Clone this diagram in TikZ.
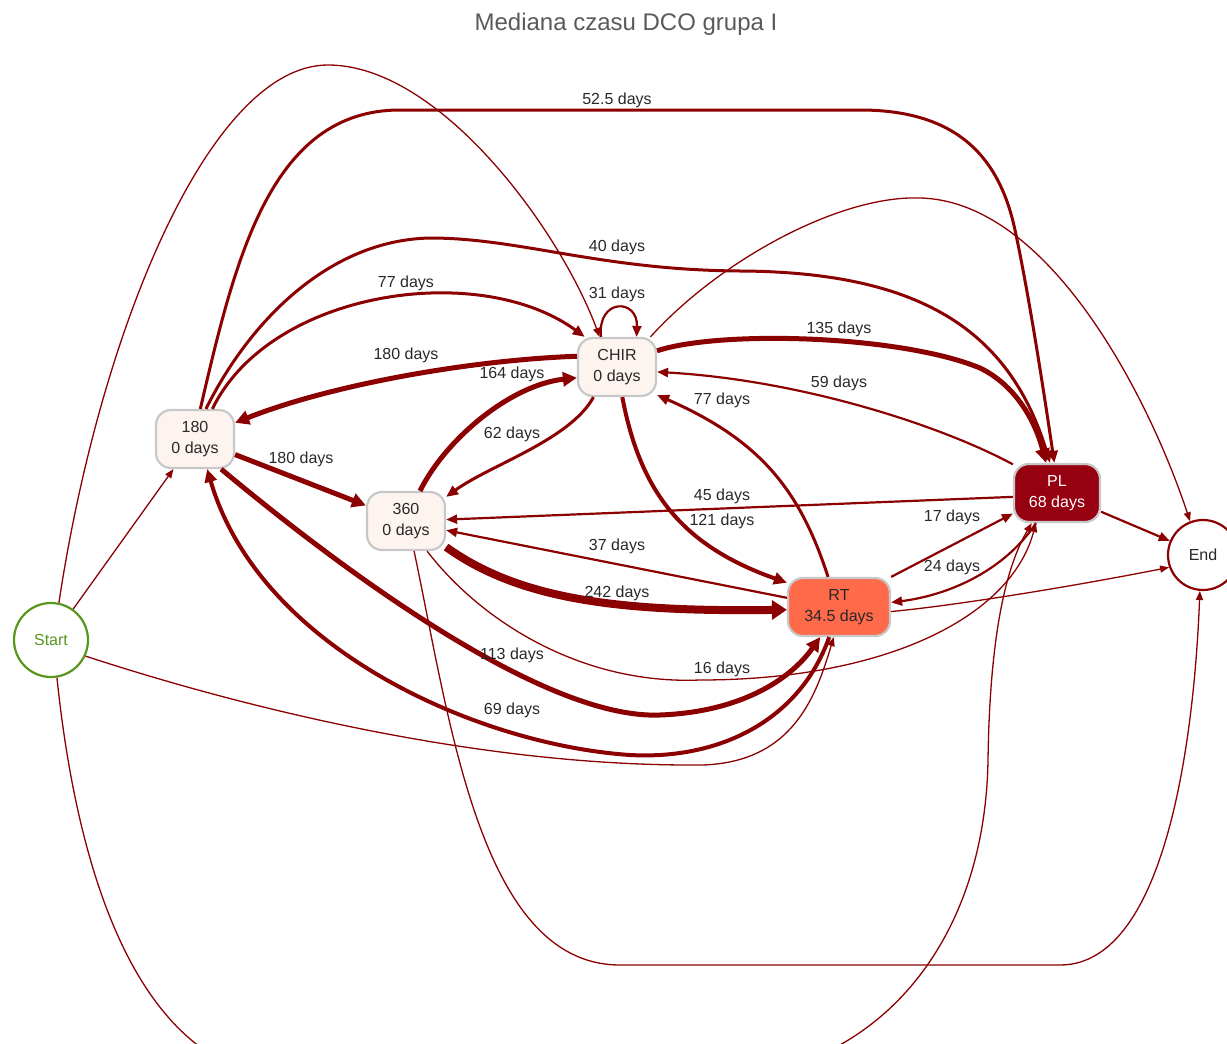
\documentclass[tikz,border=0pt]{standalone}
\usepackage{fontspec}
\setmainfont{Liberation Sans}
\usetikzlibrary{arrows.meta}
\definecolor{edgered}{RGB}{139,0,0}
\definecolor{startgreen}{RGB}{88,150,30}
\definecolor{boxfill}{RGB}{253,244,240}
\definecolor{boxline}{RGB}{200,200,200}
\definecolor{rtfill}{RGB}{255,106,74}
\definecolor{plfill}{RGB}{150,0,16}
\definecolor{txt}{RGB}{40,40,40}
\definecolor{titlegray}{RGB}{90,90,90}

\begin{document}
\begin{tikzpicture}[x=1pt, y=-1pt,
    every node/.style={font=\fontsize{16}{21}\selectfont, text=txt},
    phase/.style={draw=boxline, line width=2.2pt, fill=boxfill, rounded corners=15pt,
      minimum width=78pt, minimum height=58pt, align=center, inner sep=0pt},
    endpt/.style={circle, line width=2.2pt, fill=white, minimum size=74pt, inner sep=0pt},
    lbl/.style={inner sep=1pt},
    w1/.style={draw=edgered, line width=1.3pt, -{Triangle[length=9pt,width=7pt]}},
    w2/.style={draw=edgered, line width=2.2pt, -{Triangle[length=11pt,width=9pt]}},
    w3/.style={draw=edgered, line width=3pt, -{Triangle[length=12pt,width=10pt]}},
    w4/.style={draw=edgered, line width=4pt, -{Triangle[length=13pt,width=12pt]}},
    w5/.style={draw=edgered, line width=5pt, -{Triangle[length=14pt,width=14pt]}},
    w8/.style={draw=edgered, line width=8pt, -{Triangle[length=15pt,width=19pt]}}]
  \clip (0,0) rectangle (1227,1044);

  \node[font=\fontsize{24}{28}\selectfont, text=titlegray] (title) at (626,24) {Mediana czasu DCO grupa I};

  % states
  \node[endpt, draw=startgreen, text=startgreen] (start) at (51,640) {Start};
  \node[phase] (d180) at (195,439) {180\\0 days};
  \node[phase] (d360) at (406,521) {360\\0 days};
  \node[phase] (chir) at (617,367) {CHIR\\0 days};
  \node[phase, fill=rtfill, minimum width=102pt] (rt) at (839,607) {RT\\34.5 days};
  \node[phase, fill=plfill, text=white, minimum width=86pt] (pl) at (1057,493) {PL\\68 days};
  \node[endpt, draw=edgered, minimum size=70pt] (end) at (1203,555) {End};

  % from Start
  \draw[w1] (start) -- (d180);
  \draw[w1] (start.78) .. controls (100,330) and (210,65) .. (328,65)
    .. controls (440,65) and (560,230) .. (chir.120);
  \draw[w1] (start.-25) .. controls (250,710) and (480,765) .. (690,765)
    .. controls (790,768) and (815,700) .. (rt.-100);
  \draw[w1] (start.-81) .. controls (80,900) and (150,1080) .. (300,1080) -- (700,1080)
    .. controls (870,1080) and (985,950) .. (988,760)
    .. controls (990,620) and (1010,560) .. (pl.-130);

  % 180
  \draw[w5] (d180) -- (d360);
  \draw[w3] (d180.60) .. controls (270,290) and (480,260) .. (chir.137);
  \draw[w3] (d180.80) .. controls (235,260) and (270,110) .. (400,110) -- (860,110)
    .. controls (960,110) and (1000,160) .. (1015,230)
    .. controls (1030,300) and (1045,400) .. (pl.95);
  \draw[w3] (d180.70) .. controls (250,320) and (330,240) .. (430,238)
    .. controls (520,238) and (600,270) .. (740,271)
    .. controls (920,272) and (1010,330) .. (pl.103);
  \draw[w5] (d180.-49) .. controls (330,560) and (540,720) .. (660,715)
    .. controls (740,712) and (790,680) .. (rt.-122);

  % 360
  \draw[w5] (d360.65) .. controls (445,440) and (510,385) .. (chir.195);
  \draw[w8] (d360.-33) .. controls (520,600) and (620,612) .. (rt.183);
  \draw[w1] (d360.-55) .. controls (480,620) and (580,685) .. (700,680)
    .. controls (880,680) and (1010,620) .. (pl.-125);
  \draw[w1] (d360.-75) .. controls (450,720) and (480,965) .. (620,965) -- (1060,965)
    .. controls (1170,965) and (1195,720) .. (end.-95);

  % CHIR
  \draw[w2] (chir.118) .. controls (597,298) and (638,298) .. (chir.57);
  \draw[w5] (chir.165) .. controls (470,360) and (330,385) .. (d180.22);
  \draw[w3] (chir.-128) .. controls (570,440) and (490,465) .. (d360.31);
  \draw[w5] (chir.22) .. controls (720,330) and (900,335) .. (980,368)
    .. controls (1015,385) and (1035,420) .. (pl.110);
  \draw[w4] (chir.-80) .. controls (640,490) and (680,545) .. (rt.155);
  \draw[w1] (chir.42) .. controls (720,260) and (840,195) .. (920,198)
    .. controls (1050,201) and (1150,400) .. (end.111);

  % RT
  \draw[w3] (rt.110) .. controls (800,490) and (760,440) .. (chir.-35);
  \draw[w2] (rt.170) -- (d360.-13);
  \draw[w4] (rt.-108) .. controls (800,720) and (720,760) .. (630,755)
    .. controls (480,745) and (260,650) .. (d180.-68);
  \draw[w2] (rt.30) -- (pl.-155);
  \draw[w1] (rt.-5) .. controls (960,605) and (1080,585) .. (end.200);

  % PL
  \draw[w2] (pl.147) .. controls (940,425) and (800,380) .. (chir.-7);
  \draw[w2] (pl.185) -- (d360.2);
  \draw[w2] (pl.-125) .. controls (1005,570) and (950,595) .. (rt.5);
  \draw[w2] (pl) -- (end);

  % labels
  \node[lbl] (l525) at (617,100) {52.5 days};
  \node[lbl] (l40) at (617,247) {40 days};
  \node[lbl] (l77a) at (406,283) {77 days};
  \node[lbl] (l31) at (617,294) {31 days};
  \node[lbl] (l135) at (839,329) {135 days};
  \node[lbl] (l180a) at (406,355) {180 days};
  \node[lbl] (l164) at (512,374) {164 days};
  \node[lbl] (l59) at (839,383) {59 days};
  \node[lbl] (l77b) at (722,400) {77 days};
  \node[lbl] (l62) at (512,434) {62 days};
  \node[lbl] (l180b) at (301,459) {180 days};
  \node[lbl] (l45) at (722,496) {45 days};
  \node[lbl] (l17) at (952,517) {17 days};
  \node[lbl] (l121) at (722,521) {121 days};
  \node[lbl] (l37) at (617,546) {37 days};
  \node[lbl] (l24) at (952,567) {24 days};
  \node[lbl] (l242) at (617,593) {242 days};
  \node[lbl] (l113) at (512,655) {113 days};
  \node[lbl] (l16) at (722,669) {16 days};
  \node[lbl] (l69) at (512,710) {69 days};
\end{tikzpicture}
\end{document}
